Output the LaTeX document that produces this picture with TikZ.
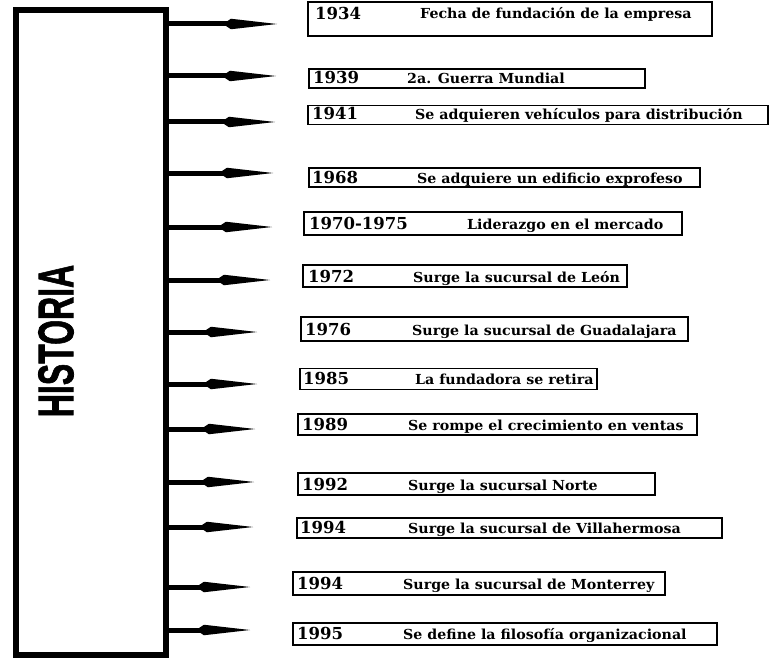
\documentclass[tikz,border=0pt]{standalone}
\usepackage{fontspec}
\usepackage{graphicx}
\setmainfont{DejaVu Serif}
\newfontfamily\descfont[FakeStretch=1.03]{DejaVu Serif}
\newfontfamily\titlefont[FakeBold=1.6]{Liberation Sans}
\usetikzlibrary{arrows.meta}
\begin{document}
\begin{tikzpicture}[x=1pt,y=-1pt,
  box/.style={draw, line width=1.2pt, inner sep=0pt},
  yr/.style={anchor=base west, inner sep=0pt, font=\fontsize{16.5}{18}\selectfont\bfseries},
  ds/.style={anchor=base west, inner sep=0pt, font=\descfont\fontsize{13.8}{15}\selectfont\bfseries},
  arr/.style={line width=5pt, -{Kite[length=54pt,width=10.5pt,inset=8pt]}}]
\useasboundingbox (0,0) rectangle (771,658);
% main box
\node[draw, line width=5.5pt, minimum width=150pt, minimum height=645pt, inner sep=0pt] (hist) at (91,332.5) {};
\node[rotate=90, inner sep=0pt, font=\titlefont\fontsize{50}{50}\selectfont\bfseries] (title) at (56,341) {\scalebox{0.64}[1]{HISTORIA}};
% boxes
\node[box, minimum width=404pt, minimum height=34pt] (b1) at (510,19) {};
\node[box, minimum width=336pt, minimum height=19pt] (b2) at (477,78.5) {};
\node[box, minimum width=460pt, minimum height=19pt] (b3) at (538,115) {};
\node[box, minimum width=391pt, minimum height=19pt] (b4) at (504.5,177.5) {};
\node[box, minimum width=378pt, minimum height=23pt] (b5) at (493,223.5) {};
\node[box, minimum width=324pt, minimum height=22pt] (b6) at (465,276) {};
\node[box, minimum width=387pt, minimum height=24pt] (b7) at (494.5,329) {};
\node[box, minimum width=297pt, minimum height=21pt] (b8) at (448.5,379) {};
\node[box, minimum width=399pt, minimum height=21pt] (b9) at (497.5,424.5) {};
\node[box, minimum width=357pt, minimum height=22pt] (b10) at (476.5,484) {};
\node[box, minimum width=425pt, minimum height=20pt] (b11) at (509.5,528) {};
\node[box, minimum width=372pt, minimum height=23pt] (b12) at (479,583.5) {};
\node[box, minimum width=424pt, minimum height=22pt] (b13) at (505,634) {};
% years
\node[yr] (y1) at (315,20) {1934};
\node[yr] (y2) at (313,84) {1939};
\node[yr] (y3) at (312,120) {1941};
\node[yr] (y4) at (312,183) {1968};
\node[yr] (y5) at (309,229) {1970-1975};
\node[yr] (y6) at (308,282) {1972};
\node[yr] (y7) at (305,335) {1976};
\node[yr] (y8) at (303,384) {1985};
\node[yr] (y9) at (302,430) {1989};
\node[yr] (y10) at (302,490) {1992};
\node[yr] (y11) at (300,533) {1994};
\node[yr] (y12) at (297,589) {1994};
\node[yr] (y13) at (297,639) {1995};
% descriptions
\node[ds] (d1) at (420,19) {Fecha de fundación de la empresa};
\node[ds] (d2) at (407,84) {2a. Guerra Mundial};
\node[ds] (d3) at (415,120) {Se adquieren vehículos para distribución};
\node[ds] (d4) at (417,183) {Se adquiere un edificio exprofeso};
\node[ds] (d5) at (467,229) {Liderazgo en el mercado};
\node[ds] (d6) at (413,282) {Surge la sucursal de León};
\node[ds] (d7) at (412,335) {Surge la sucursal de Guadalajara};
\node[ds] (d8) at (415,384) {La fundadora se retira};
\node[ds] (d9) at (408,430) {Se rompe el crecimiento en ventas};
\node[ds] (d10) at (408,490) {Surge la sucursal Norte};
\node[ds] (d11) at (408,533) {Surge la sucursal de Villahermosa};
\node[ds] (d12) at (403,589) {Surge la sucursal de Monterrey};
\node[ds] (d13) at (403,639) {Se define la filosofía organizacional};
% arrow ends
\coordinate (e1) at (277,24);
\coordinate (e2) at (276,76);
\coordinate (e3) at (275,122);
\coordinate (e4) at (273,173);
\coordinate (e5) at (272,227);
\coordinate (e6) at (270,280);
\coordinate (e7) at (257,332);
\coordinate (e8) at (257,384);
\coordinate (e9) at (255,429);
\coordinate (e10) at (254,482);
\coordinate (e11) at (253,527);
\coordinate (e12) at (250,587);
\coordinate (e13) at (250,630);
\foreach \i in {1,...,13} {
  \draw[arr] (hist.east |- e\i) -- (e\i);
}
\end{tikzpicture}
\end{document}
